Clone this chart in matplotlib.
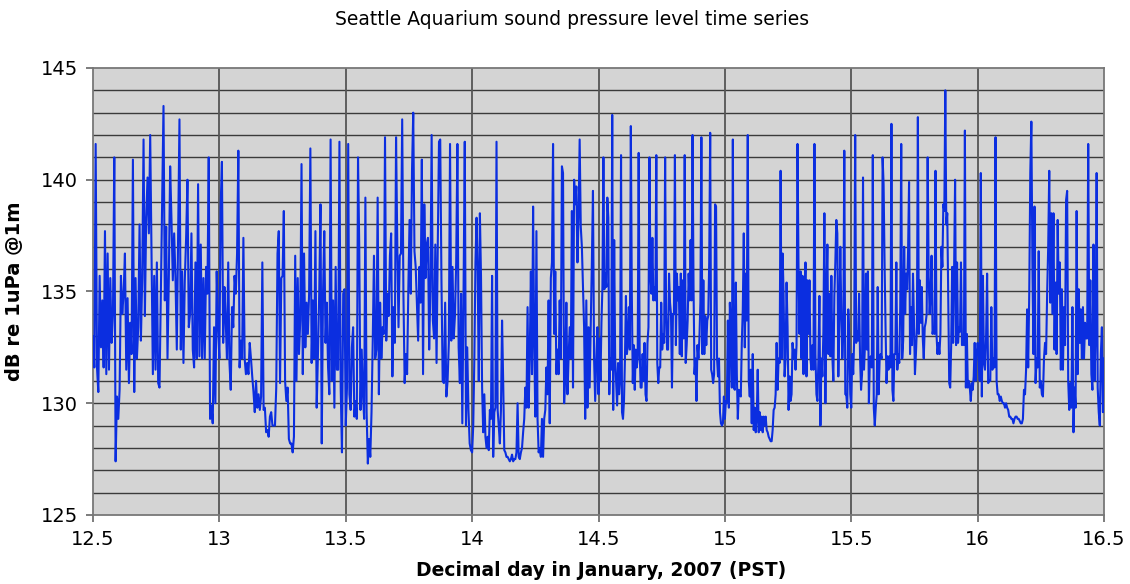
import numpy as np
import matplotlib
matplotlib.use("Agg")
import matplotlib.pyplot as plt

# Sound pressure level (dB re 1uPa @1m), one list per half day
spl_12_5 = [133.0, 131.6, 141.6, 131.6, 130.5, 135.7, 132.5, 134.6, 131.6, 137.7,
            131.3, 136.7, 131.5, 135.6, 132.7, 134.0, 141.0, 127.4, 130.3, 129.3,
            130.6, 135.7, 134.0, 134.9, 136.7, 131.5, 134.7, 130.9, 133.6, 132.2,
            140.9, 130.5, 135.6, 132.0, 133.4, 138.0, 132.8, 135.6, 141.8, 133.9,
            138.3, 140.1, 137.6, 142.0, 136.7, 131.3, 135.7, 131.5, 136.3, 130.9,
            130.7, 134.9, 139.1, 143.3, 134.6, 137.9, 132.0, 135.6, 140.6, 138.2,
            135.5, 137.6, 135.6, 132.4, 137.4, 142.7, 132.4, 135.9, 131.8, 135.5,
            137.4, 140.0, 133.4, 134.0, 137.6, 132.4, 131.6, 136.3, 132.0, 139.8,
            132.1, 137.1, 132.0, 135.6, 132.0, 136.1, 134.9, 141.0, 129.3, 129.9,
            129.1, 133.4, 130.0, 135.9, 133.4]
spl_13_0 = [132.0, 138.8, 140.8, 132.7, 135.2, 133.7, 132.0, 136.3, 131.8, 130.6,
            134.3, 133.4, 135.7, 134.9, 136.7, 141.3, 131.6, 132.8, 132.0, 137.4,
            132.0, 131.3, 131.8, 131.3, 132.7, 132.0, 131.2, 130.5, 129.6, 131.0,
            129.8, 130.4, 129.7, 130.3, 136.3, 129.7, 129.8, 128.7, 128.8, 128.5,
            129.4, 129.6, 129.0, 129.0, 129.0, 130.7, 136.7, 137.7, 130.9, 135.6,
            135.7, 138.6, 131.0, 130.1, 130.7, 128.4, 128.2, 128.2, 127.8, 128.5,
            136.6, 131.0, 135.6, 132.2, 133.7, 140.7, 131.3, 136.7, 132.5, 134.5,
            133.1, 134.9, 141.4, 131.8, 134.6, 132.0, 137.7, 129.8, 132.2, 134.9,
            138.9, 128.2, 134.9, 137.7, 132.7, 134.5, 131.6, 130.4, 141.8, 131.0,
            134.6, 129.8, 136.1, 131.5, 131.5, 141.7, 130.7, 127.8, 134.9, 135.1]
spl_13_5 = [129.0, 130.7, 141.6, 130.4, 129.7, 132.5, 133.4, 129.4, 130.1, 129.3,
            141.0, 137.0, 129.7, 132.4, 130.4, 129.3, 139.2, 129.6, 127.3, 128.4,
            127.6, 129.6, 132.8, 136.6, 132.0, 132.4, 139.2, 130.4, 134.5, 132.0,
            133.4, 133.1, 141.9, 132.8, 134.9, 133.9, 136.6, 137.6, 131.2, 134.3,
            132.7, 141.9, 137.1, 133.4, 136.6, 136.7, 142.7, 134.9, 130.9, 132.2,
            131.3, 135.1, 138.2, 134.9, 140.4, 143.0, 136.8, 136.1, 134.5, 132.8,
            136.1, 134.5, 140.9, 131.3, 138.9, 135.6, 137.1, 137.4, 132.4, 135.2,
            142.0, 133.7, 132.9, 137.1, 131.8, 137.1, 141.7, 141.8, 135.5, 131.0,
            130.9, 134.5, 130.3, 131.0, 132.7, 141.6, 132.8, 136.1, 132.9, 133.9,
            136.3, 141.6, 132.5, 130.9, 134.9, 129.1, 134.9, 141.7, 129.0, 132.5,
            129.7, 128.2, 127.9]
spl_14_0 = [127.8, 129.0, 132.0, 136.3, 138.3, 135.9, 131.0, 138.5, 135.7, 130.7,
            128.7, 130.4, 128.5, 128.0, 128.5, 127.9, 129.7, 129.3, 135.7, 127.6,
            129.6, 129.8, 141.7, 129.7, 129.0, 128.2, 129.7, 133.7, 131.0, 127.9,
            127.8, 127.6, 127.6, 127.5, 127.4, 127.5, 127.7, 127.4, 127.5, 127.5,
            127.8, 130.0, 127.6, 127.5, 127.8, 128.0, 128.7, 129.3, 130.7, 129.8,
            134.3, 129.8, 132.2, 135.9, 131.3, 138.8, 132.7, 129.4, 137.7, 129.3,
            127.8, 128.0, 127.6, 129.3, 127.6, 129.3, 129.7, 131.6, 130.4, 134.6,
            129.1, 135.6, 136.3, 141.6, 133.1, 135.9, 131.3, 132.4, 131.3, 134.6,
            132.0, 140.6, 140.3, 130.0, 131.3, 134.5, 130.4, 132.0, 133.4, 132.0,
            138.6, 130.7, 140.0, 138.9, 139.7, 136.3, 138.3, 141.8, 137.9, 137.0,
            135.2, 133.4, 129.3, 134.6, 129.8, 133.4, 130.7, 133.4, 136.3, 139.5,
            132.0, 130.1, 132.0, 133.4]
spl_14_5 = [130.4, 132.9, 131.0, 133.6, 135.2, 141.0, 135.1, 135.8, 135.2, 139.2,
            138.3, 130.4, 132.0, 131.5, 142.9, 129.7, 137.3, 132.0, 131.0, 129.9,
            131.8, 130.4, 131.0, 141.1, 129.6, 129.3, 130.1, 132.0, 134.8, 132.2,
            132.7, 134.3, 132.4, 142.4, 134.9, 130.9, 132.6, 130.6, 132.4, 131.6,
            132.0, 141.2, 132.4, 130.7, 130.7, 132.2, 131.0, 132.7, 130.4, 130.1,
            132.7, 133.4, 141.0, 135.8, 134.9, 137.4, 134.6, 135.2, 134.6, 141.1,
            131.8, 130.9, 131.6, 131.6, 134.5, 132.4, 133.1, 132.7, 141.0, 134.0,
            132.4, 132.4, 135.8, 134.5, 134.0, 130.7, 134.0, 134.0, 141.1, 132.6,
            135.8, 134.6, 135.2, 132.2, 135.8, 132.1, 135.5, 132.9, 141.1, 131.8,
            132.6, 133.7, 135.8, 134.6, 137.3, 134.6, 142.0, 135.2, 131.3, 132.0,
            130.1, 132.6, 132.0, 132.9, 134.5, 141.9, 132.2, 135.5, 132.2, 133.9,
            132.6, 133.7, 133.9, 136.3, 142.1, 131.5, 131.3, 130.9, 131.3, 138.9,
            138.8, 132.0, 131.2, 132.0, 129.6, 129.1, 129.0, 129.1, 130.3]
spl_15_0 = [129.3, 130.1, 130.0, 133.7, 129.8, 134.5, 133.1, 130.7, 141.8, 130.7,
            130.6, 135.4, 131.3, 129.3, 130.6, 130.4, 130.3, 132.7, 134.2, 137.6,
            132.5, 135.8, 133.7, 142.0, 131.0, 130.3, 131.5, 129.1, 132.2, 128.8,
            129.8, 128.7, 129.3, 131.5, 128.7, 129.6, 128.8, 129.4, 128.7, 129.4,
            129.0, 129.4, 128.8, 128.7, 128.5, 128.4, 128.3, 128.3, 128.8, 129.7,
            129.8, 130.4, 132.7, 130.6, 132.0, 131.8, 140.4, 132.0, 136.7, 134.9,
            131.2, 132.0, 135.4, 133.4, 129.7, 131.2, 130.1, 130.4, 132.7, 132.0,
            132.4, 131.5, 132.6, 141.6, 136.1, 133.1, 135.9, 132.0, 135.7, 131.3,
            134.2, 136.3, 131.2, 135.5, 133.1, 135.5, 132.0, 131.5, 132.6, 131.5,
            141.6, 132.2, 130.4, 130.1, 132.0, 134.8, 129.0, 132.0, 131.2, 133.2,
            138.5, 130.0, 134.9, 137.1, 132.2, 134.9, 132.1, 135.7, 132.1, 131.0,
            134.8, 136.3, 138.2, 137.6, 131.2, 133.7, 137.0, 134.0, 132.0, 133.1,
            141.3, 130.4, 130.4, 129.8, 134.2, 132.9, 130.4]
spl_15_5 = [129.8, 132.2, 131.3, 132.9, 142.0, 132.7, 133.2, 132.8, 134.9, 132.0,
            130.6, 131.3, 140.1, 131.5, 132.6, 135.8, 132.4, 135.9, 130.0, 132.0,
            132.1, 131.6, 141.1, 129.8, 129.0, 129.8, 130.4, 135.2, 130.4, 132.0,
            132.2, 132.0, 141.0, 139.8, 136.3, 133.4, 130.9, 132.1, 131.5, 132.1,
            131.6, 142.5, 130.6, 130.1, 132.2, 132.2, 136.3, 131.5, 132.2, 131.8,
            134.3, 141.6, 132.0, 132.8, 137.0, 134.0, 135.8, 135.1, 136.8, 139.9,
            132.2, 134.3, 132.6, 135.8, 133.7, 131.3, 132.2, 133.4, 142.8, 133.1,
            135.5, 133.6, 135.2, 132.9, 132.0, 133.4, 133.6, 134.0, 141.0, 135.7,
            134.0, 134.9, 136.6, 133.1, 133.4, 133.1, 140.4, 133.1, 132.2, 132.7,
            132.2, 133.1, 137.0, 136.1, 138.9, 138.6, 144.0, 138.0, 138.5, 134.9,
            130.9, 130.7, 132.6, 136.1, 132.7, 136.1, 140.0, 132.6, 136.3, 132.7,
            133.4, 133.2, 136.3, 132.6, 132.7, 132.6, 142.2, 130.7, 133.1, 130.7,
            131.0, 130.7, 130.1, 130.9, 130.6, 131.2, 132.7, 131.0, 132.2]
spl_16_0 = [132.7, 132.2, 131.0, 140.3, 130.3, 135.7, 131.8, 131.5, 132.9, 135.8,
            130.9, 131.0, 131.0, 134.3, 131.5, 132.0, 131.6, 141.9, 131.0, 130.4,
            130.4, 130.1, 130.3, 130.1, 130.0, 130.0, 129.8, 130.0, 129.8, 129.7,
            129.4, 129.4, 129.3, 129.3, 129.1, 129.3, 129.4, 129.4, 129.3, 129.3,
            129.2, 129.1, 129.1, 129.3, 130.6, 130.4, 131.5, 134.2, 131.6, 134.9,
            140.3, 142.6, 136.3, 132.2, 138.8, 130.9, 132.0, 131.6, 136.8, 130.7,
            131.0, 130.4, 130.3, 132.0, 132.7, 132.2, 134.9, 137.0, 140.4, 134.5,
            138.5, 134.0, 138.5, 132.4, 135.4, 132.2, 138.2, 134.9, 136.3, 131.5,
            135.1, 131.5, 134.3, 132.6, 139.1, 139.5, 131.0, 129.7, 130.9, 129.8,
            134.3, 128.7, 130.7, 129.8, 138.6, 131.3, 135.1, 132.7, 134.2, 132.0,
            134.3, 132.0, 133.6, 132.9, 132.9, 141.6, 132.6, 135.5, 131.3, 130.6,
            137.1, 131.0, 132.9, 140.3, 130.7, 129.6, 129.0, 132.2, 133.4, 129.6,
            132.0]

segments = [spl_12_5, spl_13_0, spl_13_5, spl_14_0, spl_14_5, spl_15_0, spl_15_5, spl_16_0]
seg_starts = [12.5, 13.0, 13.5, 14.0, 14.5, 15.0, 15.5, 16.0]

days = []
spl = []
for start, vals in zip(seg_starts, segments):
    last = (start == seg_starts[-1])
    days.extend(np.linspace(start, start + 0.5, len(vals), endpoint=last))
    spl.extend(vals)

fig = plt.figure(figsize=(11.3, 5.84), dpi=100)
ax = fig.add_axes([0.0823, 0.1182, 0.8947, 0.7654])
ax.set_facecolor('#d4d4d4')

# horizontal grid every 1 dB, vertical every half day
for v in range(126, 145):
    ax.axhline(v, color='#3a3a3a', linewidth=1.0, zorder=1)
for d in np.arange(13.0, 16.5, 0.5):
    ax.axvline(d, color='#555555', linewidth=1.3, zorder=1)

ax.plot(days, spl, color='#0b2ee0', linewidth=1.5, zorder=3)

ax.set_xlim(12.5, 16.5)
ax.set_ylim(125, 145)
ax.set_xticks(np.arange(12.5, 16.6, 0.5))
ax.set_xticklabels(['12.5', '13', '13.5', '14', '14.5', '15', '15.5', '16', '16.5'])
ax.set_yticks([125, 130, 135, 140, 145])
ax.tick_params(axis='both', direction='out', length=5, width=1.2, color='#666666',
               labelsize=14, pad=6)
for s in ax.spines.values():
    s.set_color('#777777')
    s.set_linewidth(1.3)

fig.text(0.506, 0.966, 'Seattle Aquarium sound pressure level time series',
         ha='center', va='center', fontsize=13.5)
ax.set_ylabel('dB re 1uPa @1m', fontsize=14, fontweight='bold', labelpad=12)
ax.set_xlabel('Decimal day in January, 2007 (PST)', fontsize=13.5, fontweight='bold')
ax.xaxis.set_label_coords(0.503, -0.104)

fig.savefig('out.png', dpi=100)
